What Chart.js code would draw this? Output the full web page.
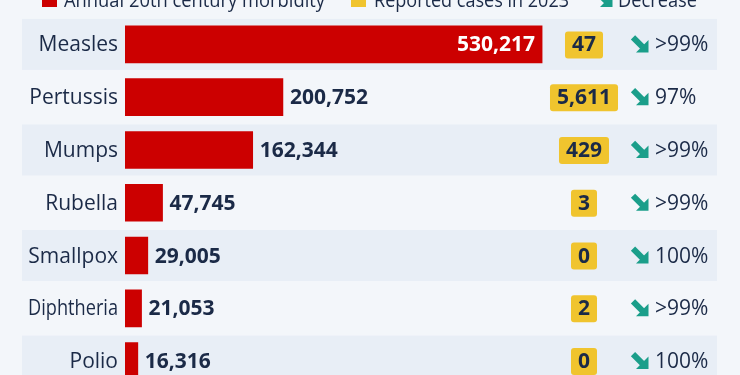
<!DOCTYPE html>
<html>
<head>
<meta charset="utf-8">
<script src="https://cdn.jsdelivr.net/npm/chart.js@4"></script>
<style>
    html, body { margin: 0; padding: 0; background: #f3f6fa; overflow: hidden; }
    #wrap { width: 740px; height: 375px; overflow: hidden; }
</style>
</head>
<body>
<div id="wrap"><canvas id="myChart" width="740" height="400"></canvas></div>
<script>
"use strict";
// Data
const diseases = ["Measles", "Pertussis", "Mumps", "Rubella", "Smallpox", "Diphtheria", "Polio"];
const morbidity = [530217, 200752, 162344, 47745, 29005, 21053, 16316];
const cases2023 = [47, 5611, 429, 3, 0, 2, 0];
const decrease = [">99%", "97%", ">99%", ">99%", "100%", ">99%", "100%"];

const legendLabels = ["Annual 20th century morbidity", "Reported cases in 2023", "Decrease"];

const navy = "#1b2a47";
const red = "#cc0000";
const yellow = "#f0c42e";
const teal = "#1a9e8a";
const fontName = "'Open Sans', sans-serif";

const fmt = n => n.toLocaleString("en-US");

function drawArrow(ctx, x, y) {
    // thick arrow pointing down-right, box 16x16
    ctx.save();
    ctx.strokeStyle = teal;
    ctx.fillStyle = teal;
    ctx.lineWidth = 6;
    ctx.lineCap = "butt";
    ctx.beginPath();
    ctx.moveTo(x + 1, y + 1);
    ctx.lineTo(x + 10.5, y + 10.5);
    ctx.stroke();
    ctx.beginPath();
    ctx.moveTo(x + 16.5, y + 3.5);
    ctx.lineTo(x + 16.5, y + 16);
    ctx.lineTo(x + 4, y + 16);
    ctx.closePath();
    ctx.fill();
    ctx.restore();
}

function roundRect(ctx, x, y, w, h, r) {
    ctx.beginPath();
    ctx.moveTo(x + r, y);
    ctx.arcTo(x + w, y, x + w, y + h, r);
    ctx.arcTo(x + w, y + h, x, y + h, r);
    ctx.arcTo(x, y + h, x, y, r);
    ctx.arcTo(x, y, x + w, y, r);
    ctx.closePath();
}

// background, row bands, legend and category labels
const bandsPlugin = {
    id: "bands",
    beforeDraw(chart) {
        const ctx = chart.ctx;
        const yScale = chart.scales.y;
        ctx.save();
        ctx.fillStyle = "#f3f6fa";
        ctx.fillRect(0, 0, chart.width, chart.height);
        ctx.fillStyle = "#e8eef6";
        diseases.forEach((d, i) => {
            if (i % 2 == 0) {
                const cy = yScale.getPixelForValue(i);
                ctx.fillRect(22, cy - 25.5, 695, 51);
            }
        });

        // category labels
        ctx.font = "21px " + fontName;
        ctx.fillStyle = navy;
        ctx.textAlign = "right";
        ctx.textBaseline = "middle";
        diseases.forEach((d, i) => {
            ctx.fillText(d, 118, yScale.getPixelForValue(i) + 1, 90);
        });

        // legend (cut at the top of the picture)
        ctx.font = "20px " + fontName;
        ctx.textAlign = "left";
        ctx.textBaseline = "alphabetic";
        ctx.fillStyle = red;
        ctx.fillRect(42, -8, 15, 15);
        ctx.fillStyle = navy;
        ctx.fillText(legendLabels[0], 64, 7, 261);
        ctx.fillStyle = yellow;
        ctx.fillRect(351, -8, 15, 15);
        ctx.fillStyle = navy;
        ctx.fillText(legendLabels[1], 374, 7, 195);
        drawArrow(ctx, 596, -9);
        ctx.fillStyle = navy;
        ctx.fillText(legendLabels[2], 618, 7, 79);
        ctx.restore();
    }
};

// value labels, badges and decrease column
const labelsPlugin = {
    id: "labels",
    afterDatasetsDraw(chart) {
        const ctx = chart.ctx;
        const meta = chart.getDatasetMeta(0);
        ctx.save();
        ctx.textBaseline = "middle";
        meta.data.forEach((bar, i) => {
            const cy = bar.y;
            const text = fmt(morbidity[i]);
            ctx.font = "bold 21px " + fontName;
            if (bar.x - bar.base > 250) {
                ctx.fillStyle = "#ffffff";
                ctx.textAlign = "right";
                ctx.fillText(text, bar.x - 7, cy + 1);
            } else {
                ctx.fillStyle = navy;
                ctx.textAlign = "left";
                ctx.fillText(text, bar.x + 7, cy + 1);
            }

            // yellow badge
            const badge = fmt(cases2023[i]);
            const bw = ctx.measureText(badge).width + 14;
            ctx.fillStyle = yellow;
            roundRect(ctx, 584 - bw / 2, cy - 13, bw, 27, 3);
            ctx.fill();
            ctx.fillStyle = navy;
            ctx.textAlign = "center";
            ctx.fillText(badge, 584, cy + 1);

            // decrease
            drawArrow(ctx, 632, cy - 8);
            ctx.font = "21px " + fontName;
            ctx.fillStyle = navy;
            ctx.textAlign = "left";
            ctx.fillText(decrease[i], 655, cy + 1);
        });
        ctx.restore();
    }
};

const data = {
    labels: diseases,
    datasets: [{
        label: legendLabels[0],
        data: morbidity,
        backgroundColor: red,
        borderWidth: 0,
        barThickness: 37
    }]
};

const config = {
    type: "bar",
    data: data,
    options: {
        indexAxis: "y",
        responsive: false,
        animation: false,
        layout: { padding: { top: 18, right: 25, bottom: 12.5, left: 125 } },
        plugins: {
            legend: { display: false },
            tooltip: { enabled: false }
        },
        scales: {
            x: { display: false, min: 0, max: 750000 },
            y: { display: false }
        }
    },
    plugins: [bandsPlugin, labelsPlugin]
};

const myChart = new Chart(document.getElementById("myChart"), config);
</script>
</body>
</html>
